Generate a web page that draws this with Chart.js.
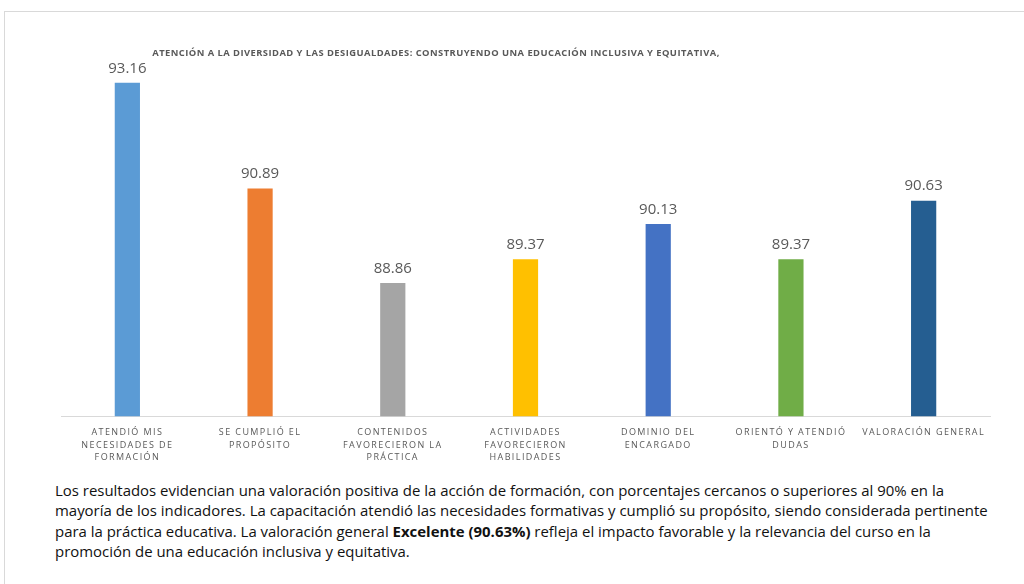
<!DOCTYPE html>
<html>
<head>
<meta charset="utf-8">
<script src="https://cdn.jsdelivr.net/npm/chart.js@4.4.1/dist/chart.umd.min.js"></script>
<style>
    html, body { margin: 0; padding: 0; background: #fff; overflow: hidden; }
    body { width: 1024px; height: 584px; position: relative; }
    #frame { position: absolute; left: 4px; top: 11px; width: 1040px; height: 600px; border: 1px solid #d9d9d9; box-sizing: border-box; }
    #chartBox { position: absolute; left: 4px; top: 12px; width: 1020px; height: 462px; }
    #notes {
        position: absolute; left: 55px; top: 480px;
        font-family: 'Open Sans', sans-serif; font-size: 14.95px; line-height: 20.4px;
        color: #111; white-space: nowrap;
    }
</style>
</head>
<body>
<div id="frame"></div>
<div id="chartBox"><canvas id="evalChart"></canvas></div>
<div id="notes">
    Los resultados evidencian una valoración positiva de la acción de formación, con porcentajes cercanos o superiores al 90% en la<br>
    mayoría de los indicadores. La capacitación atendió las necesidades formativas y cumplió su propósito, siendo considerada pertinente<br>
    para la práctica educativa. La valoración general <b>Excelente (90.63%)</b> refleja el impacto favorable y la relevancia del curso en la<br>
    promoción de una educación inclusiva y equitativa.
</div>
<script>
const chartTitle = 'ATENCIÓN A LA DIVERSIDAD Y LAS DESIGUALDADES: CONSTRUYENDO UNA EDUCACIÓN INCLUSIVA Y EQUITATIVA,';

const categories = [
    ['ATENDIÓ MIS', 'NECESIDADES DE', 'FORMACIÓN'],
    ['SE CUMPLIÓ EL', 'PROPÓSITO'],
    ['CONTENIDOS', 'FAVORECIERON LA', 'PRÁCTICA'],
    ['ACTIVIDADES', 'FAVORECIERON', 'HABILIDADES'],
    ['DOMINIO DEL', 'ENCARGADO'],
    ['ORIENTÓ Y ATENDIÓ', 'DUDAS'],
    ['VALORACIÓN GENERAL'],
];

const scores = [93.16, 90.89, 88.86, 89.37, 90.13, 89.37, 90.63];

const barColors = [
    '#5b9bd5',  // blue
    '#ed7d31',  // orange
    '#a5a5a5',  // gray
    '#ffc000',  // yellow
    '#4472c4',  // dark blue
    '#70ad47',  // green
    '#255e91',  // navy
];

// letter spacing for axis labels
const spacingPlugin = {
    id: 'spacing',
    beforeDraw(chart) {
        chart.ctx.letterSpacing = '1.4px';
    },
    beforeDatasetsDraw(chart) {
        chart.ctx.letterSpacing = '0px';
    }
};

const titlePlugin = {
    id: 'titleText',
    afterDraw(chart) {
        const ctx = chart.ctx;
        ctx.save();
        ctx.letterSpacing = '0.45px';
        ctx.font = 'bold 9.4px "Open Sans"';
        ctx.fillStyle = '#595959';
        ctx.textAlign = 'center';
        ctx.textBaseline = 'middle';
        ctx.fillText(chartTitle, 432, 41);
        ctx.restore();
    }
};

const valueLabels = {
    id: 'valueLabels',
    afterDatasetsDraw(chart) {
        const ctx = chart.ctx;
        ctx.save();
        ctx.font = '15px "Open Sans"';
        ctx.fillStyle = '#595959';
        ctx.textAlign = 'center';
        ctx.textBaseline = 'bottom';
        chart.getDatasetMeta(0).data.forEach((bar, i) => {
            ctx.fillText(scores[i].toFixed(2), bar.x, bar.y - 7);
        });
        ctx.restore();
    }
};

const ctx = document.getElementById('evalChart').getContext('2d');
new Chart(ctx, {
    type: 'bar',
    data: {
        labels: categories,
        datasets: [{
            data: scores,
            backgroundColor: barColors,
            barPercentage: 0.19,
            categoryPercentage: 1,
        }]
    },
    options: {
        responsive: true,
        maintainAspectRatio: false,
        animation: false,
        layout: {
            padding: { top: 55, left: 57, right: 34, bottom: 0 }
        },
        plugins: {
            legend: { display: false },
            title: { display: false },
            tooltip: { enabled: false }
        },
        scales: {
            x: {
                grid: { display: false, drawTicks: false },
                border: { display: true, color: '#d9d9d9', width: 1 },
                ticks: {
                    color: '#595959',
                    font: { family: 'Open Sans', size: 9, lineHeight: 1.4 },
                    padding: 10,
                    maxRotation: 0,
                    autoSkip: false,
                }
            },
            y: {
                display: false,
                min: 86,
                max: 93.5,
            }
        }
    },
    plugins: [spacingPlugin, titlePlugin, valueLabels]
});
</script>
</body>
</html>
